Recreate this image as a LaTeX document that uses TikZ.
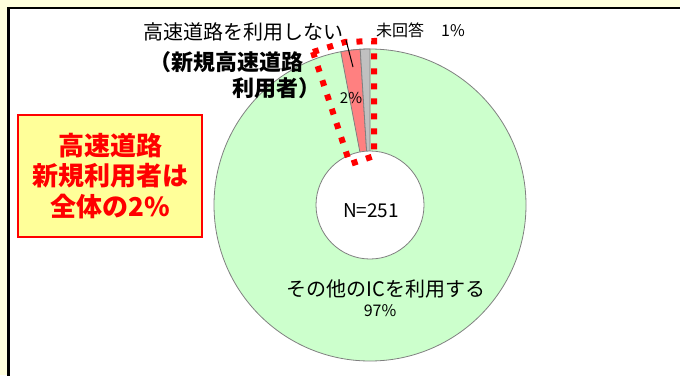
\documentclass[tikz,border=0pt]{standalone}
\usepackage{fontspec}
\setmainfont{Noto Sans CJK JP}
\newfontfamily\jp{Noto Sans CJK JP}
\definecolor{cream}{RGB}{255,255,221}
\definecolor{pgreen}{RGB}{204,255,204}
\definecolor{ppink}{RGB}{255,128,128}
\definecolor{pgray}{RGB}{192,192,192}
\definecolor{edgegray}{RGB}{128,128,128}
\definecolor{boxyellow}{RGB}{255,255,153}
\definecolor{pred}{RGB}{255,0,0}
\tikzset{
  slice/.style={draw=edgegray, line width=0.8pt},
  lbl/.style={inner sep=0pt, font=\jp},
  hilite/.style={draw=pred, line width=6pt, dash pattern=on 6pt off 9pt},
  notebox/.style={draw=pred, line width=2pt, fill=boxyellow, minimum width=184pt, minimum height=122pt, inner sep=0pt, align=center, text=pred}
}
\begin{document}
\begin{tikzpicture}[x=1pt,y=-1pt]
\useasboundingbox (0,0) rectangle (680,375);
\clip (0,0) rectangle (680,375);
\fill[cream] (0,0) rectangle (680,375);
\draw[line width=2.3pt, fill=white] (8.5,8) rectangle (700,400);

\coordinate (c) at (370,205);
% donut
\fill[pgreen, slice] (c) circle[radius=156];
\filldraw[fill=ppink, slice] (c) -- ([shift={(c)}]-93.6:156) arc[start angle=-93.6, end angle=-100.8, radius=156] -- cycle;
\filldraw[fill=pgray, slice] (c) -- ([shift={(c)}]-90:156) arc[start angle=-90, end angle=-93.6, radius=156] -- cycle;
\filldraw[fill=white, slice] (c) circle[radius=54];

% highlight outline
\draw[hilite] (313,52) -- (345,42) -- (374,41) -- (374,156) -- (350,164) -- cycle;

% labels
\node[lbl, font=\jp\fontsize{20}{24}\selectfont] (nouse) at (243,32) {高速道路を利用しない};
\node[lbl, font=\jp\bfseries\fontsize{22}{26}\selectfont, anchor=east] (new1) at (304,62) {（新規高速道路};
\node[lbl, font=\jp\bfseries\fontsize{22}{26}\selectfont, anchor=east] (new2) at (321,88) {利用者）};
\node[lbl, font=\jp\fontsize{16}{19}\selectfont, anchor=west] (noans) at (376,30) {未回答\hspace{17pt}1\%};
\node[lbl, font=\jp\fontsize{15}{18}\selectfont] (two) at (351,98) {2\%};
\coordinate (lead1) at (346,40);
\coordinate (lead2) at (353,67);
\draw[line width=1pt] (lead1) -- (lead2);

\node[lbl, font=\jp\fontsize{19}{22}\selectfont] (n) at (371,211) {N=251};
\node[lbl, font=\jp\fontsize{20}{24}\selectfont] (other) at (386,289) {その他のICを利用する};
\node[lbl, font=\jp\fontsize{16}{19}\selectfont] (ninety) at (380,311) {97\%};

\node[notebox, font=\jp\bfseries\fontsize{26}{30.5}\selectfont] (note) at (110,176) {高速道路\\新規利用者は\\全体の2\%};
\end{tikzpicture}
\end{document}
